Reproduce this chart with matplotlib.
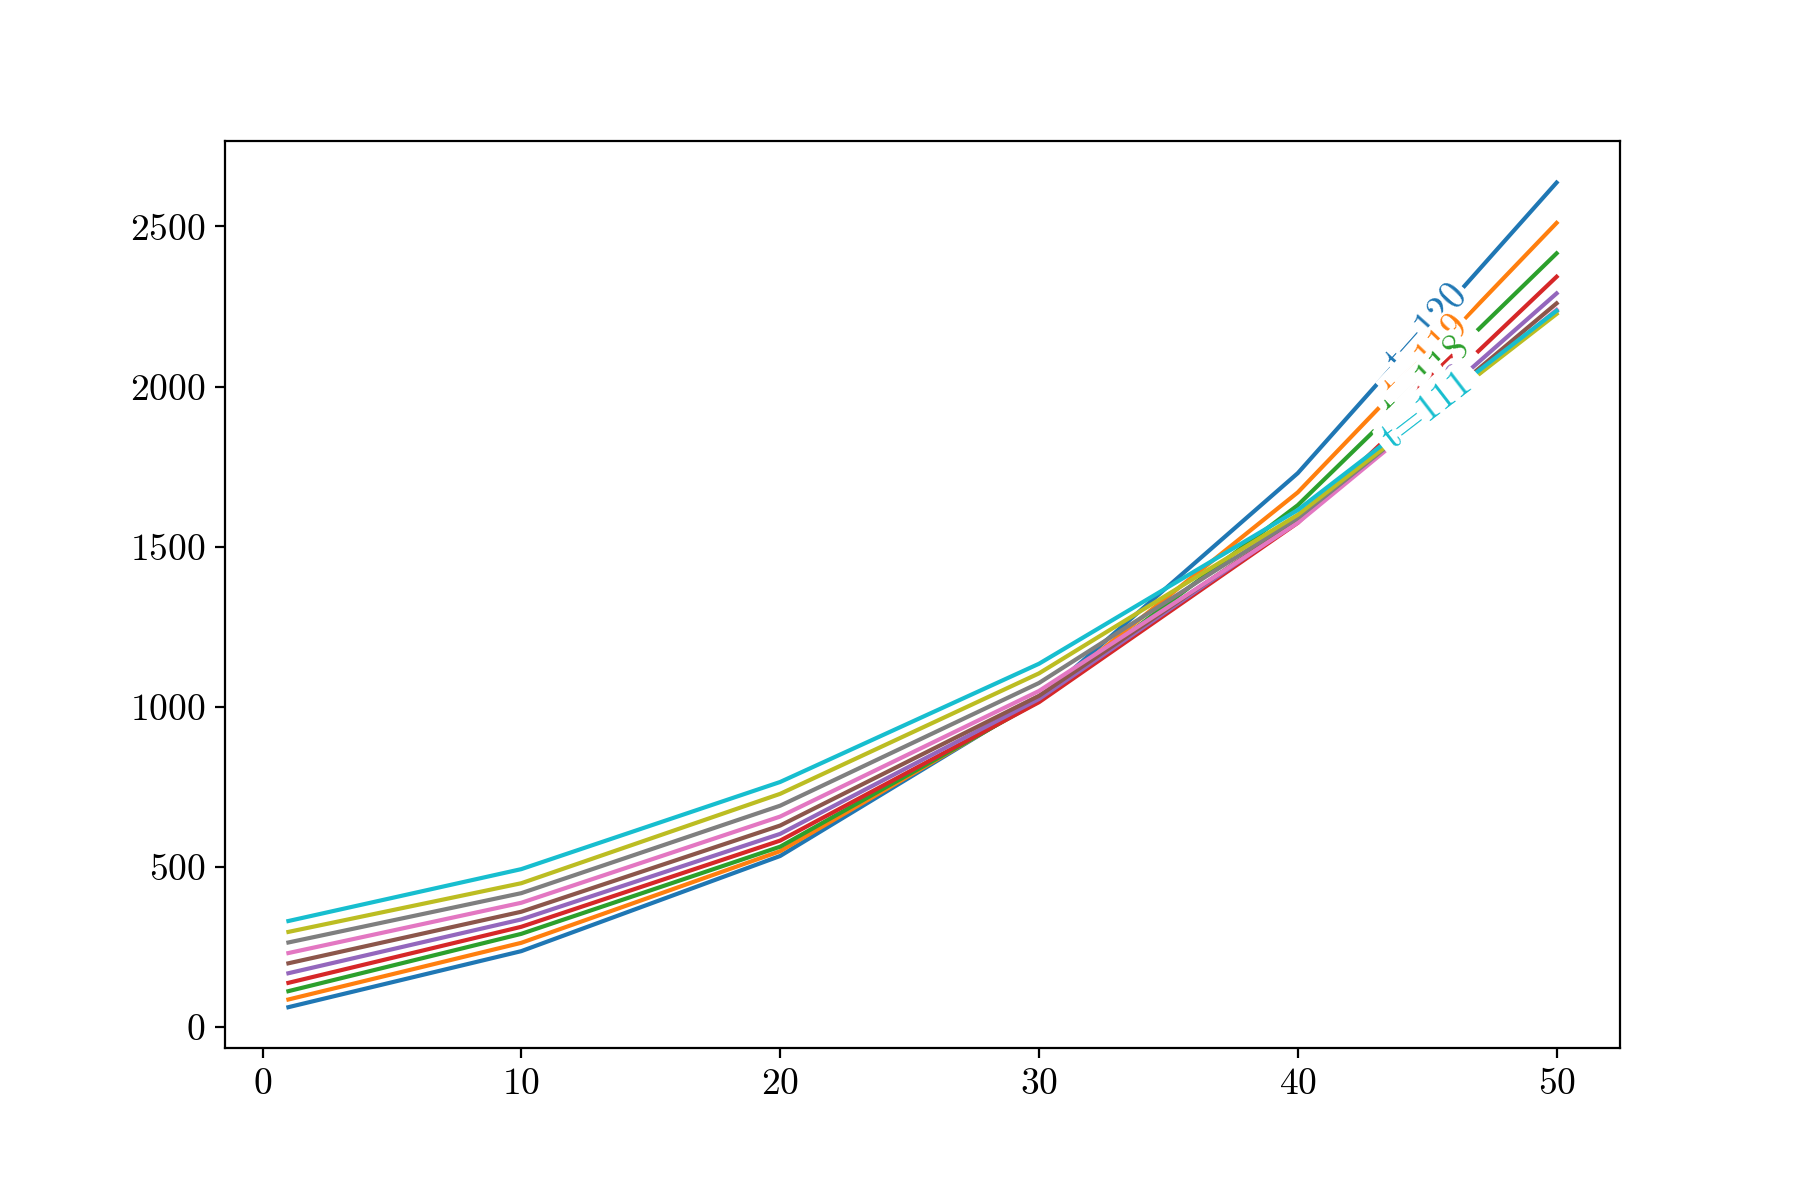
import numpy as np
import matplotlib
matplotlib.use("Agg")
import matplotlib.pyplot as plt

plt.rcParams['font.family'] = ['cmr10', 'DejaVu Serif']
plt.rcParams['axes.formatter.use_mathtext'] = True
plt.rcParams['font.size'] = 13.5

# ==== data ====
x = [1, 10, 20, 30, 40, 50]
labels = ['t=120', 't=119', 't=118', 't=117', 't=116',
          't=115', 't=114', 't=113', 't=112', 't=111']
t120 = [63, 238, 535, 1025, 1730, 2637]
t119 = [87, 264, 550, 1022, 1670, 2511]
t118 = [113, 292, 564, 1018, 1630, 2416]
t117 = [139, 314, 583, 1015, 1575, 2343]
t116 = [169, 337, 604, 1025, 1580, 2291]
t115 = [200, 361, 630, 1035, 1582, 2260]
t114 = [232, 389, 658, 1050, 1575, 2240]
t113 = [265, 419, 692, 1075, 1590, 2235]
t112 = [298, 450, 729, 1105, 1600, 2227]
t111 = [332, 494, 766, 1135, 1615, 2237]
series = [t120, t119, t118, t117, t116, t115, t114, t113, t112, t111]
label_x = 45

# ==== plot ====
fig = plt.figure(figsize=(9, 5.89), dpi=200)
ax = plt.subplot(1, 1, 1)

lines = []
for ys, lab in zip(series, labels):
    ln, = ax.plot(x, ys, label=lab)
    lines.append(ln)

ax.set_xticks([0, 10, 20, 30, 40, 50])
ax.set_yticks([0, 500, 1000, 1500, 2000, 2500])

# inline labels, rotated along each line (labellines style)
fig.canvas.draw()
for ln, ys, lab in zip(lines, series, labels):
    yl = np.interp(label_x, x, ys)
    i = np.searchsorted(x, label_x)
    p1 = ax.transData.transform((x[i - 1], ys[i - 1]))
    p2 = ax.transData.transform((x[i], ys[i]))
    ang = np.degrees(np.arctan2(p2[1] - p1[1], p2[0] - p1[0]))
    ax.text(label_x, yl, lab, color=ln.get_color(), rotation=ang,
            rotation_mode='anchor', ha='center', va='center', fontsize=14,
            bbox=dict(facecolor='white', edgecolor='none', pad=0.8),
            zorder=2.5, clip_on=True)

fig.savefig('out.png', dpi=200)
